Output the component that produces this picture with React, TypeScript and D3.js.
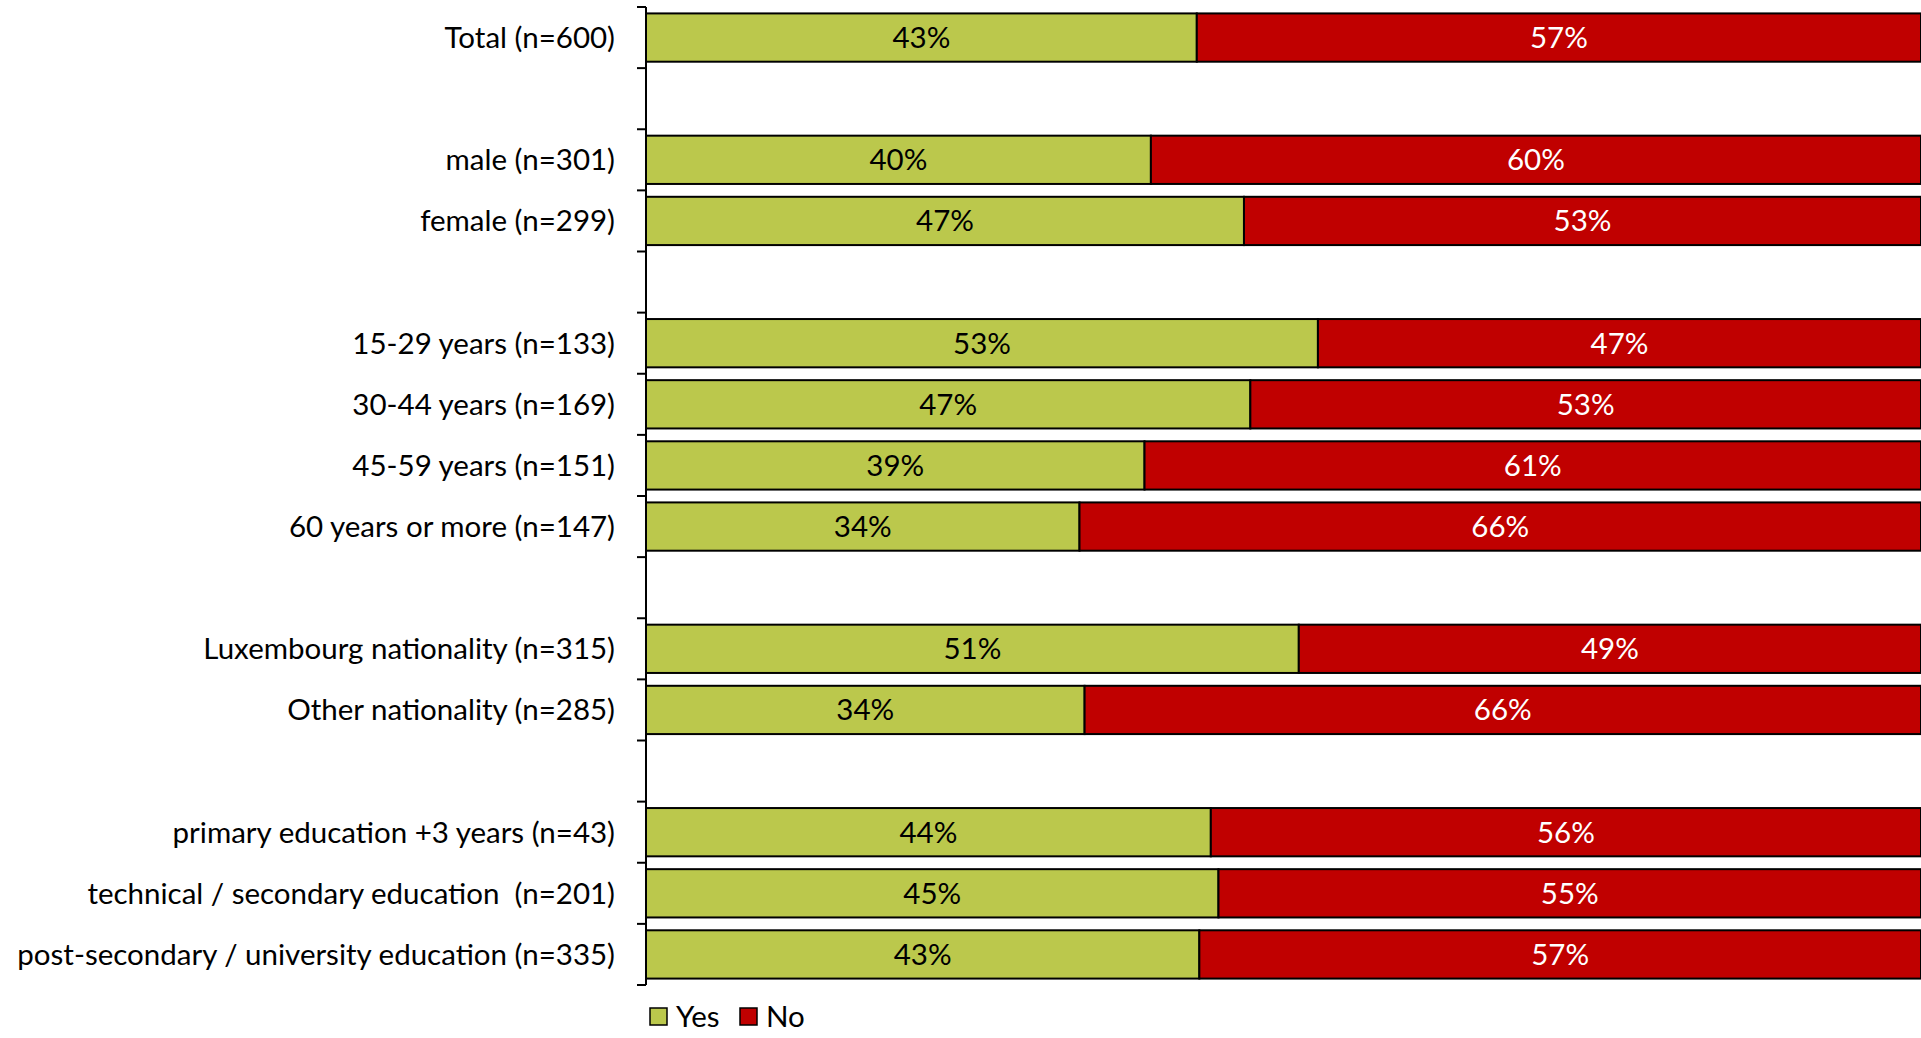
import React from "react";
import * as d3 from "d3";

const categories = [
  "Total (n=600)",
  "",
  "male (n=301)",
  "female (n=299)",
  "",
  "15-29 years (n=133)",
  "30-44 years (n=169)",
  "45-59 years (n=151)",
  "60 years or more (n=147)",
  "",
  "Luxembourg nationality (n=315)",
  "Other nationality (n=285)",
  "",
  "primary education +3 years (n=43)",
  "technical / secondary education  (n=201)",
  "post-secondary / university education (n=335)",
];
const yesValues = [43.2, null, 39.6, 46.9, null, 52.7, 47.4, 39.1, 34.0, null, 51.2, 34.4, null, 44.3, 44.9, 43.4];
const noValues = [56.8, null, 60.4, 53.1, null, 47.3, 52.6, 60.9, 66.0, null, 48.8, 65.6, null, 55.7, 55.1, 56.6];
const seriesNames = ["Yes", "No"];
const seriesColors = ["#BBC84C", "#C00000"];
const textColors = ["#000000", "#FFFFFF"];

const W = 1921;
const H = 1038;
const FONT = "Lato, 'Open Sans', sans-serif";
const FS = 29.5;

export default function App() {
  const ids = categories.map((_, i) => String(i));
  const y = d3
    .scaleBand<string>()
    .domain(ids)
    .range([7, 985])
    .paddingInner(0.21)
    .paddingOuter(0.105);
  const x = d3.scaleLinear().domain([0, 100]).range([646, 1921]);
  const step = y.step();
  const y0 = 7;

  const rows = categories.map((c, i) => {
    const yv = yesValues[i];
    const nv = noValues[i];
    if (yv == null || nv == null) return null;
    const top = y(String(i))!;
    const h = y.bandwidth();
    const segs = [
      { v: yv, x0: 0, x1: yv },
      { v: nv, x0: yv, x1: yv + nv },
    ];
    return (
      <g key={i}>
        {segs.map((s, k) => (
          <g key={k}>
            <rect
              x={x(s.x0)}
              y={top}
              width={x(s.x1) - x(s.x0)}
              height={h}
              fill={seriesColors[k]}
              stroke="#000"
              strokeWidth={2}
            />
            <text
              x={(x(s.x0) + x(s.x1)) / 2}
              y={top + h / 2}
              dy="0.35em"
              textAnchor="middle"
              fontSize={FS}
              fill={textColors[k]}
              fontFamily={FONT}
            >
              {Math.round(s.v)}%
            </text>
          </g>
        ))}
      </g>
    );
  });

  const ticks = d3.range(categories.length + 1).map((i) => y0 + i * step);

  return (
    <svg
      width={W}
      height={H}
      style={{ position: "absolute", left: 0, top: 0, background: "#fff" }}
    >
      {rows}
      <line x1={646} x2={646} y1={ticks[0]} y2={ticks[ticks.length - 1]} stroke="#000" strokeWidth={2} />
      {ticks.map((t, i) => (
        <line key={i} x1={637} x2={646} y1={t} y2={t} stroke="#000" strokeWidth={2} />
      ))}
      {categories.map((c, i) =>
        c ? (
          <text
            key={i}
            x={615}
            y={y(String(i))! + y.bandwidth() / 2}
            dy="0.35em"
            textAnchor="end"
            fontSize={FS}
            fill="#000"
            fontFamily={FONT}
            style={{ whiteSpace: "pre" }}
          >
            {c}
          </text>
        ) : null
      )}
      <g fontFamily={FONT} fontSize={FS}>
        {seriesNames.map((n, k) => {
          const lx = [650, 740][k];
          return (
            <g key={n}>
              <rect x={lx} y={1008} width={17} height={17} fill={seriesColors[k]} stroke="#000" strokeWidth={1.5} />
              <text x={lx + 26} y={1017} dy="0.35em" fill="#000">
                {n}
              </text>
            </g>
          );
        })}
      </g>
    </svg>
  );
}
